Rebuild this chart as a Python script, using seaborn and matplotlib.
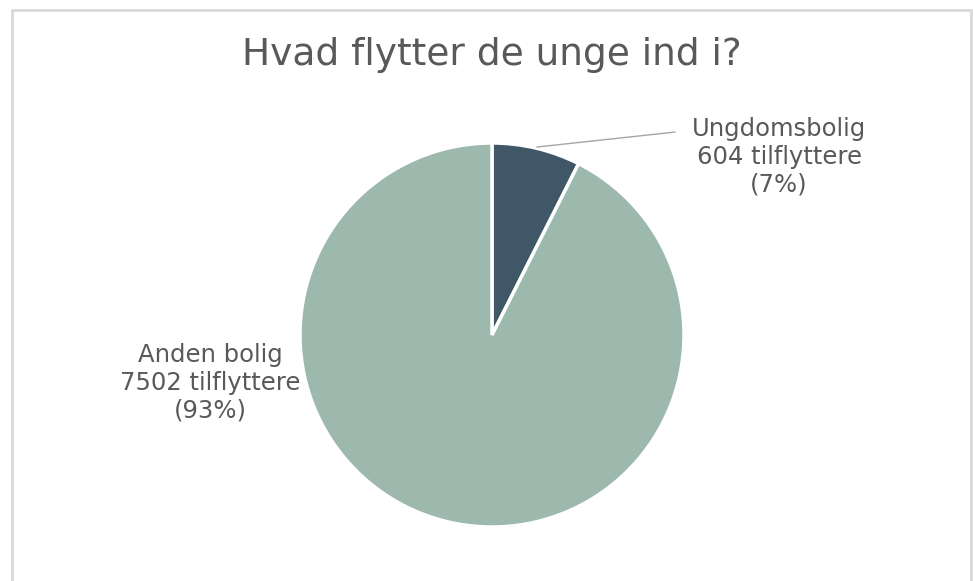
import numpy as np
import matplotlib
matplotlib.use("Agg")
import matplotlib.pyplot as plt
import seaborn as sns
from matplotlib.patches import Rectangle

categories = ["Ungdomsbolig", "Anden bolig"]
counts = [604, 7502]
colors = ["#3f5766", "#9db8ad"]
title = "Hvad flytter de unge ind i?"

sns.set_theme(style="white")
plt.rcParams['font.family'] = ['DejaVu Sans']

text_color = "#595959"

fig = plt.figure(figsize=(9.73, 5.81), dpi=100)

# chart border (bottom edge falls outside the image)
fig.patches.append(Rectangle((12 / 973, -0.05), (971 - 12) / 973, (571 / 581) + 0.05,
                             transform=fig.transFigure, fill=False,
                             edgecolor="#d9d9d9", linewidth=2, zorder=0))

# square axes centred on the pie
cx, cy, r = 492, 335, 192
ax = fig.add_axes([(cx - r) / 973, (581 - cy - r) / 581, 2 * r / 973, 2 * r / 581])
wedges, _ = ax.pie(counts, colors=colors, startangle=90, counterclock=False,
                   wedgeprops=dict(edgecolor="white", linewidth=2.5))
ax.set_xlim(-1, 1)
ax.set_ylim(-1, 1)
ax.set_aspect("auto")
ax.axis("off")

total = sum(counts)
labels = [f"{c}\n{n} tilflyttere\n({n / total:.0%})" for c, n in zip(categories, counts)]

ax.text(1.495, 0.927, labels[0], ha="center", va="center", fontsize=17.5,
        color=text_color, linespacing=1.2, clip_on=False)
ax.text(-1.469, -0.25, labels[1], ha="center", va="center", fontsize=17.5,
        color=text_color, linespacing=1.2, clip_on=False)

# leader line for the small slice
ax.plot([0.234, 0.953], [0.979, 1.057], color="#a6a6a6", linewidth=1, clip_on=False)

fig.text(cx / 973, 1 - 55 / 581, title, ha="center", va="center",
         fontsize=27, color=text_color)

plt.savefig("out.png", dpi=100)
plt.close()
